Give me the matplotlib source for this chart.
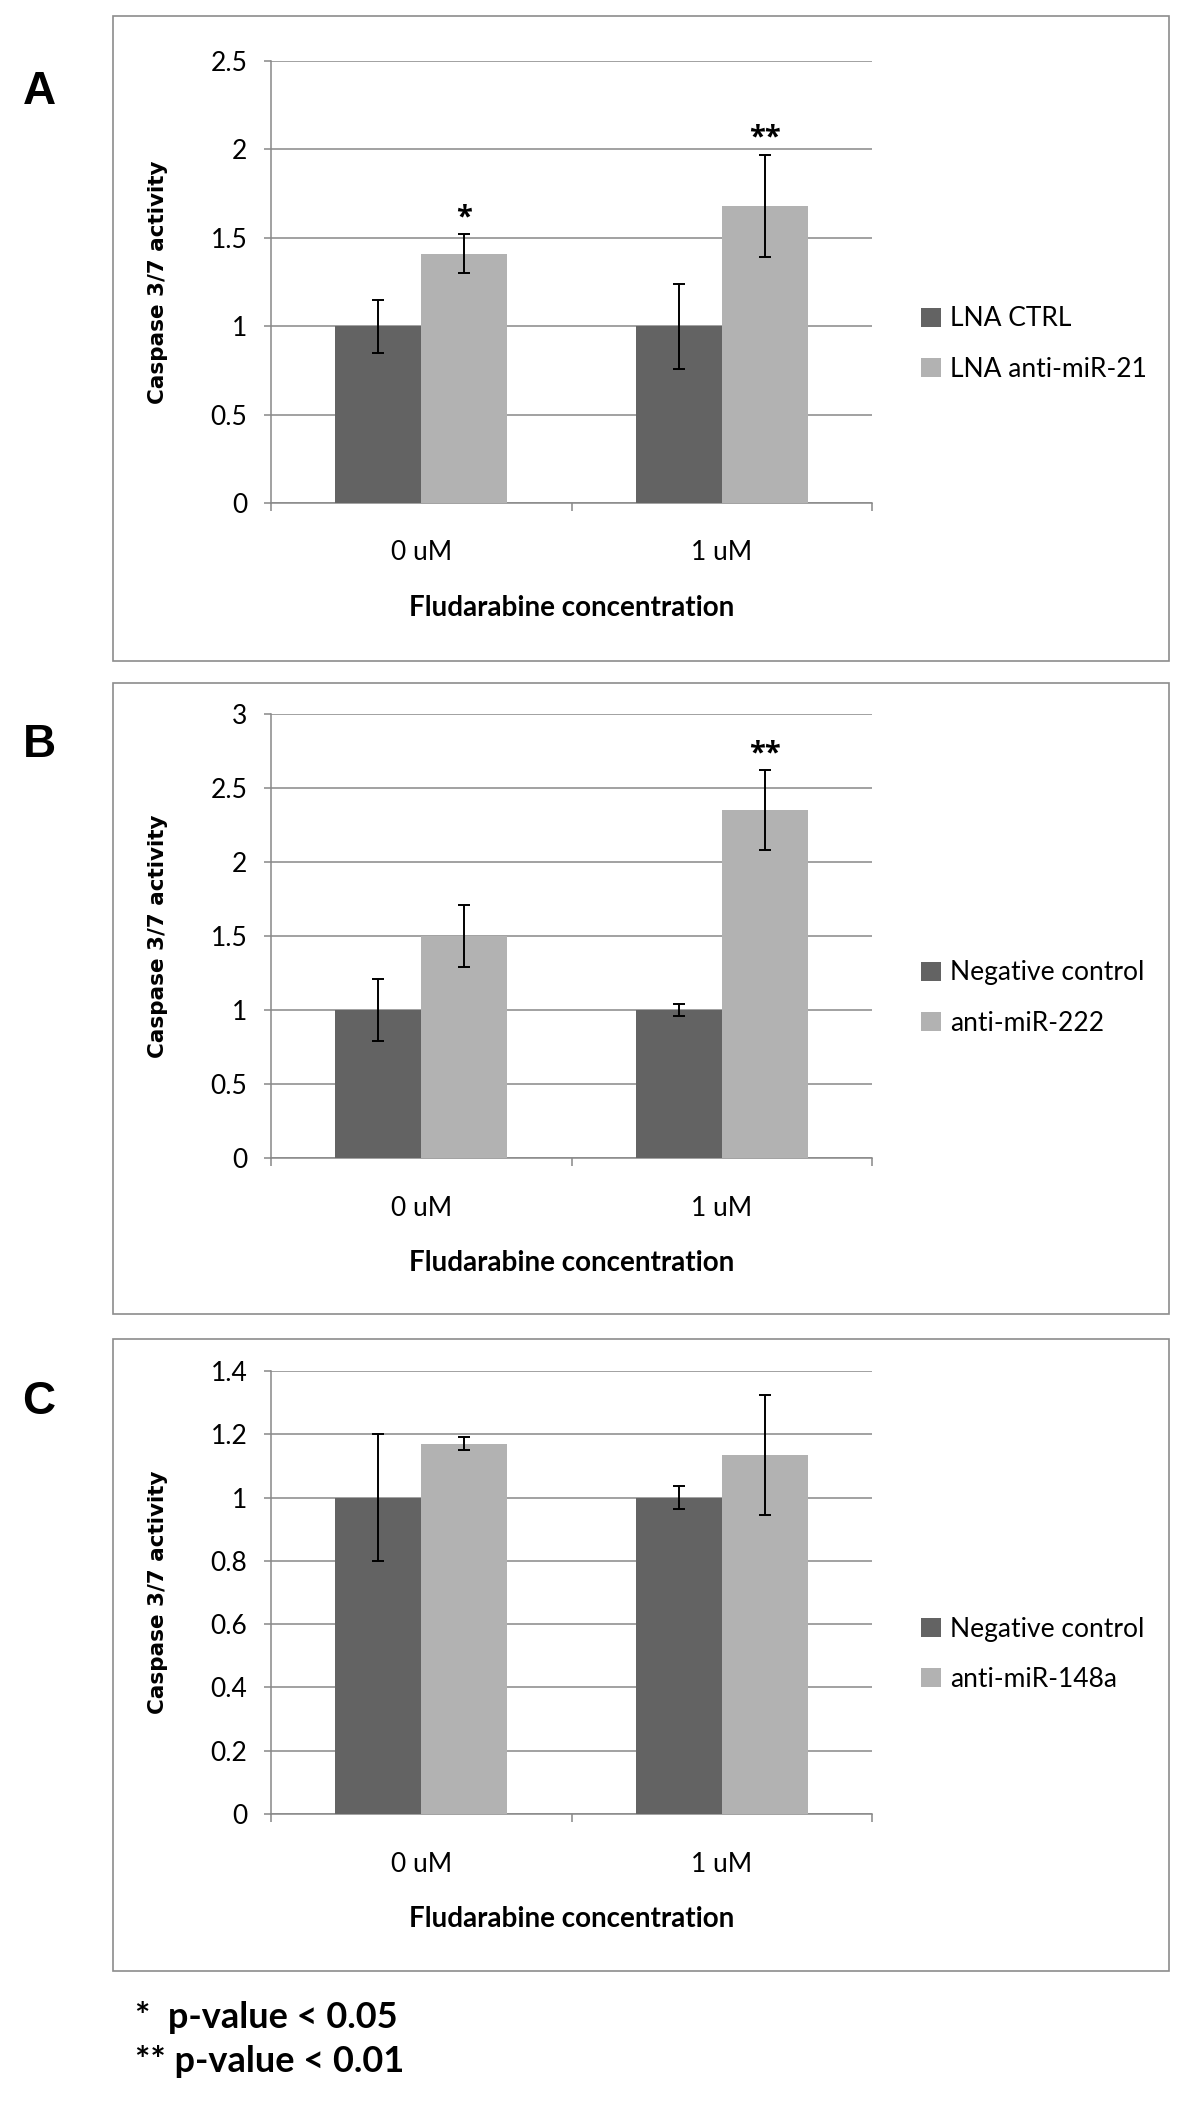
import numpy as np
import matplotlib
matplotlib.use("Agg")
import matplotlib.pyplot as plt
from matplotlib.patches import Rectangle

# data
concentrations = ["0 uM", "1 uM"]

ctrl_A = [1.0, 1.0]
ctrl_err_A = [0.15, 0.24]
treat_A = [1.41, 1.68]
treat_err_A = [0.11, 0.29]
sig_A = ["*", "**"]
names_A = ["LNA CTRL", "LNA anti-miR-21"]

ctrl_B = [1.0, 1.0]
ctrl_err_B = [0.21, 0.04]
treat_B = [1.5, 2.35]
treat_err_B = [0.21, 0.27]
sig_B = ["", "**"]
names_B = ["Negative control", "anti-miR-222"]

ctrl_C = [1.0, 1.0]
ctrl_err_C = [0.20, 0.036]
treat_C = [1.17, 1.135]
treat_err_C = [0.02, 0.19]
sig_C = ["", ""]
names_C = ["Negative control", "anti-miR-148a"]

W, H = 1200, 2114
DARK = "#636363"
LIGHT = "#b2b2b2"
GRID = "#888888"
REG = "Lato"

fig = plt.figure(figsize=(W / 100, H / 100), dpi=100)


def fx(px):
    return px / W


def fy(py):
    return 1 - py / H


def panel(letter, frame_top, frame_bot, ax_top, ax_bot, ctrl, ctrl_err, treat, treat_err,
          sig, names, ymax, ystep):
    # outer frame like the Excel chart area
    fig.patches.append(Rectangle((fx(113), fy(frame_bot)), fx(1169 - 113), (frame_bot - frame_top) / H,
                                 transform=fig.transFigure, fill=False, edgecolor="#8c8c8c", lw=1.2))
    fig.text(fx(39), fy(ax_top + 31), letter, fontsize=33, fontweight="bold",
             family="Liberation Sans", ha="center", va="center")

    ax = fig.add_axes([fx(271), fy(ax_bot), fx(872 - 271), (ax_bot - ax_top) / H])
    x = np.arange(len(concentrations))
    w = 1 / 3.5
    ax.bar(x - w / 2, ctrl, w, color=DARK, label=names[0], zorder=3)
    ax.bar(x + w / 2, treat, w, color=LIGHT, label=names[1], zorder=3)
    ax.errorbar(x - w / 2, ctrl, yerr=ctrl_err, fmt="none", ecolor="black", elinewidth=1.4,
                capsize=4, capthick=1.4, zorder=4)
    ax.errorbar(x + w / 2, treat, yerr=treat_err, fmt="none", ecolor="black", elinewidth=1.4,
                capsize=4, capthick=1.4, zorder=4)
    for xi, v, e, s in zip(x, treat, treat_err, sig):
        if s:
            ax.annotate(s, (xi + w / 2, v + e), xytext=(0, 12), textcoords="offset points",
                        ha="center", va="center", fontsize=21, fontweight="bold", family="Open Sans")

    ax.set_xlim(-0.5, 1.5)
    ax.set_ylim(0, ymax)
    ticks = np.arange(0, ymax + ystep / 2, ystep)
    ax.set_yticks(ticks)
    ax.set_yticklabels(["%g" % t for t in ticks])
    ax.set_xticks(x)
    ax.set_xticklabels(concentrations)
    ax.set_xticks([-0.5, 0.5, 1.5], minor=True)
    ax.grid(axis="y", color=GRID, lw=1.1, zorder=0)
    for sp in ["top", "right"]:
        ax.spines[sp].set_visible(False)
    for sp in ["left", "bottom"]:
        ax.spines[sp].set_color(GRID)
        ax.spines[sp].set_linewidth(1.1)
    ax.tick_params(axis="x", which="major", length=0, pad=27, labelsize=19)
    ax.tick_params(axis="x", which="minor", length=6, color=GRID, width=1.1)
    ax.tick_params(axis="y", length=5, color=GRID, width=1.1, pad=12, labelsize=19)
    for lab in ax.get_xticklabels() + ax.get_yticklabels():
        lab.set_family(REG)

    ax.set_ylabel("Caspase 3/7 activity", fontsize=15.5, fontweight="bold", family="DejaVu Sans")
    ax.yaxis.set_label_coords(-0.171, 0.5)
    ax.set_xlabel("Fludarabine concentration", fontsize=20, fontweight="bold", family=REG)
    ax.xaxis.label.set_va("center")
    ax.xaxis.set_label_coords(0.5, -105 / (ax_bot - ax_top))

    mid = (ax_top + ax_bot) / 2 + 62
    ax.legend(loc="center left", bbox_to_anchor=(fx(921), fy(mid)), bbox_transform=fig.transFigure,
              frameon=False, handlelength=0.75, handleheight=0.75, handletextpad=0.35,
              labelspacing=0.95, borderpad=0, borderaxespad=0, prop={"family": REG, "size": 19})
    return ax


panel("A", 16, 661, 61, 503, ctrl_A, ctrl_err_A, treat_A, treat_err_A, sig_A, names_A, 2.5, 0.5)
panel("B", 683, 1314, 714, 1158, ctrl_B, ctrl_err_B, treat_B, treat_err_B, sig_B, names_B, 3.0, 0.5)
panel("C", 1339, 1971, 1371, 1814, ctrl_C, ctrl_err_C, treat_C, treat_err_C, sig_C, names_C, 1.4, 0.2)

fig.text(fx(135), fy(2018), "*  p-value < 0.05", fontsize=26, fontweight="bold", family=REG, va="center")
fig.text(fx(135), fy(2062), "** p-value < 0.01", fontsize=26, fontweight="bold", family=REG, va="center")

fig.savefig("out.png", dpi=100, facecolor="white")
